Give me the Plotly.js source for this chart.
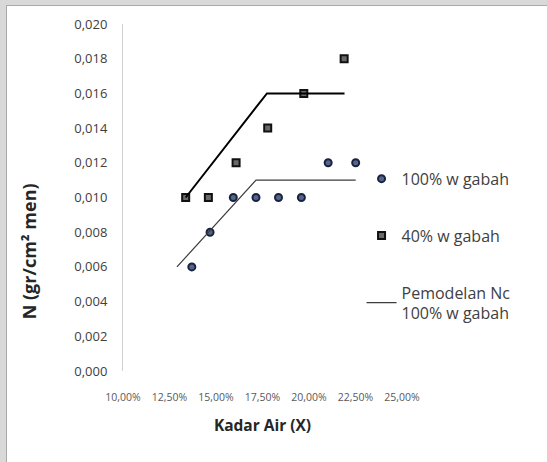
<!DOCTYPE html>
<html>
<head>
<meta charset="utf-8">
<script src="https://cdn.plot.ly/plotly-3.0.1.min.js"></script>
<style>
  html, body { margin: 0; padding: 0; background: #d9d9d9; width: 547px; height: 462px; overflow: hidden; }
  #frame { position: absolute; left: 6px; top: 5px; width: 540px; height: 456px; background: #ffffff; border-left: 1px solid #a9a9a9; border-top: 1px solid #a9a9a9; }
  #chart { width: 540px; height: 456px; }
</style>
</head>
<body>
<div id="frame"><div id="chart"></div></div>
<script>
// Data
const kadarAir100 = [0.137, 0.1468, 0.1593, 0.1715, 0.1836, 0.1959, 0.2103, 0.2251];
const nilaiN100   = [0.006, 0.008, 0.010, 0.010, 0.010, 0.010, 0.012, 0.012];
const kadarAir40  = [0.1337, 0.1459, 0.1608, 0.1778, 0.1972, 0.2189];
const nilaiN40    = [0.010, 0.010, 0.012, 0.014, 0.016, 0.018];
const modelX100   = [0.129, 0.1715, 0.2251];
const modelY100   = [0.006, 0.011, 0.011];
const modelX40    = [0.1337, 0.1774, 0.2191];
const modelY40    = [0.010, 0.016, 0.016];
const xTicks      = [0.10, 0.125, 0.15, 0.175, 0.20, 0.225, 0.25];
const yTicks      = [0, 0.002, 0.004, 0.006, 0.008, 0.010, 0.012, 0.014, 0.016, 0.018, 0.020];
const names       = ['100% w gabah', '40% w gabah', 'Pemodelan Nc<br>100% w gabah'];
const yTitle      = 'N (gr/cm² men)';
const xTitle      = 'Kadar Air (X)';

const FONT = 'Open Sans, Liberation Sans, sans-serif';

const traces = [
  {
    x: kadarAir100, y: nilaiN100, type: 'scatter', mode: 'markers', name: names[0],
    legendgroup: 'a',
    marker: { symbol: 'circle', size: 7, color: '#56658a', line: { color: '#17233f', width: 2 } }
  },
  {
    x: kadarAir40, y: nilaiN40, type: 'scatter', mode: 'markers', name: names[1],
    legendgroup: 'b',
    marker: { symbol: 'square', size: 7, color: '#6a6a6a', line: { color: '#111111', width: 2 } }
  },
  {
    x: modelX100, y: modelY100, type: 'scatter', mode: 'lines', name: names[2],
    legendgroup: 'c',
    line: { color: '#3c3c3c', width: 1.2 }
  },
  {
    x: modelX40, y: modelY40, type: 'scatter', mode: 'lines', name: 'Pemodelan Nc 40% w gabah',
    legendgroup: 'd', showlegend: false,
    line: { color: '#000000', width: 2 }
  }
];

const layout = {
  width: 540, height: 456,
  margin: { l: 116, r: 145, t: 18, b: 91 },
  paper_bgcolor: '#ffffff',
  plot_bgcolor: '#ffffff',
  separators: ',.',
  showlegend: true,
  font: { family: FONT, color: '#404040' },
  xaxis: {
    range: [0.10, 0.25],
    tickvals: xTicks,
    tickformat: '.2%',
    showgrid: false, zeroline: false, showline: false, ticks: '',
    ticklabelstandoff: 18,
    tickfont: { family: FONT, size: 10.5, color: '#595959' },
    title: { text: xTitle, standoff: 17, font: { family: FONT, size: 15.5, color: '#262626', weight: 'bold' } },
    fixedrange: true
  },
  yaxis: {
    range: [0, 0.020],
    tickvals: yTicks,
    tickformat: '.3f',
    showgrid: false, zeroline: false,
    showline: true, linecolor: '#d0d0d0', linewidth: 1,
    ticks: '',
    ticklabelstandoff: 12,
    tickfont: { family: FONT, size: 13, color: '#404040' },
    fixedrange: true
  },
  annotations: [
    {
      text: yTitle, textangle: -90, showarrow: false,
      xref: 'paper', yref: 'paper', x: 0, y: 0.345,
      xanchor: 'center', yanchor: 'middle', xshift: -94,
      font: { family: FONT, size: 18, color: '#262626', weight: 'bold' }
    }
  ],
  legend: {
    x: 0.855, xanchor: 'left',
    y: 0.603, yanchor: 'top',
    traceorder: 'grouped',
    tracegroupgap: 33,
    bgcolor: 'rgba(0,0,0,0)',
    font: { family: FONT, size: 16, color: '#404040' }
  }
};

Plotly.newPlot('chart', traces, layout, { displayModeBar: false, staticPlot: true });
</script>
</body>
</html>
